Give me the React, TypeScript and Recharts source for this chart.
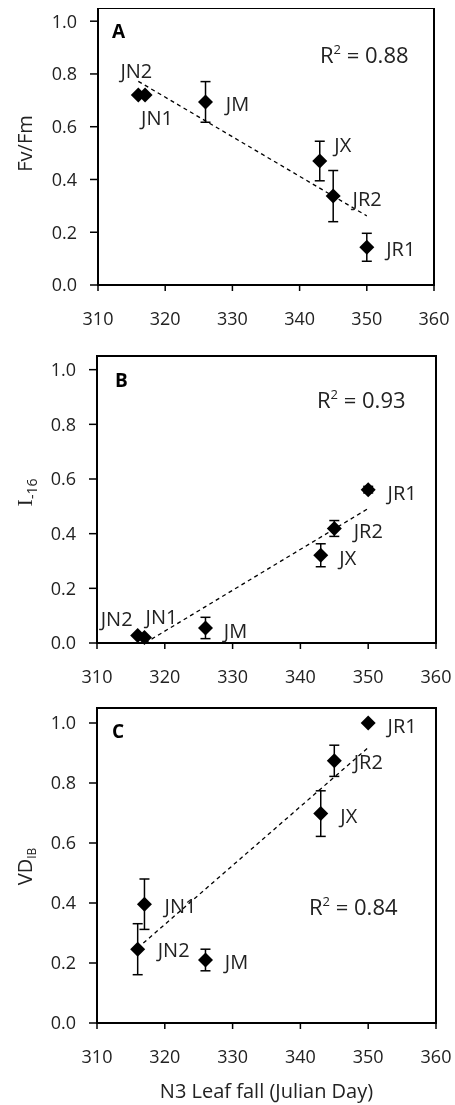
import React from 'react';
import { ScatterChart, Scatter, XAxis, YAxis, ErrorBar, ReferenceArea } from 'recharts';

// N3 leaf fall (Julian day) per site
const sites = ['JN2', 'JN1', 'JM', 'JX', 'JR2', 'JR1'];
const leafFall = [316, 317, 326, 343, 345, 350];

// A: Fv/Fm
const fvfm = [0.72, 0.72, 0.694, 0.47, 0.337, 0.143];
const fvfmErr = [0, 0, 0.077, 0.075, 0.097, 0.053];
// B: I-16
const i16 = [0.027, 0.02, 0.055, 0.321, 0.419, 0.561];
const i16Err = [0, 0, 0.039, 0.042, 0.029, 0.012];
// C: VD_IB
const vdib = [0.246, 0.396, 0.21, 0.698, 0.874, 1.0];
const vdibErr = [0.085, 0.084, 0.036, 0.076, 0.052, 0];

// linear trend lines (end points)
const trendDaysA = [316, 350];
const trendA = [0.772, 0.262];
const trendDaysB = [317.1, 350];
const trendB = [0, 0.492];
const trendDaysC = [316, 350];
const trendC = [0.25, 0.918];

const r2Values = ['0.88', '0.93', '0.84'];
const xTicks = [310, 320, 330, 340, 350, 360];
const yTicks = [0, 0.2, 0.4, 0.6, 0.8, 1.0];

const FONT = '"Open Sans", sans-serif';
const INK = '#222';

// label offsets from marker centre, per panel
const LABEL_POS: Record<string, Record<string, number[]>> = {
  A: { JN2: [-2, -24], JN1: [12, 23], JM: [32, 2], JX: [23, -16], JR2: [34, 3], JR1: [34, 2] },
  B: { JN2: [-21, -17], JN1: [17, -21], JM: [30, 3], JX: [27, 3], JR2: [34, 3], JR1: [34, 3] },
  C: { JR1: [34, 3], JR2: [34, 1], JX: [28, 2], JN1: [36, 2], JN2: [36, 1], JM: [31, 2] },
};

const build = (vals: number[], errs: number[]) =>
  sites.map((name, i) => ({ name, x: leafFall[i], y: vals[i], err: errs[i] }));
const buildTrend = (xs: number[], ys: number[]) => xs.map((x, i) => ({ x, y: ys[i] }));

const makeShape = (panel: string) => (props: any) => {
  const { cx, cy, payload } = props;
  const [dx, dy] = LABEL_POS[panel][payload.name] || [32, 2];
  const s = 7.5;
  return (
    <g>
      <path d={`M${cx},${cy - s}L${cx + s},${cy}L${cx},${cy + s}L${cx - s},${cy}Z`} fill="#000" />
      <text x={cx + dx} y={cy + dy} dy="0.35em" textAnchor="middle" fontSize={20} fill={INK} fontFamily={FONT}>
        {payload.name}
      </text>
    </g>
  );
};

const Overlay = ({ viewBox, letter, r2, letterPos, r2Pos }: any) => {
  const { x, y } = viewBox;
  return (
    <g fontFamily={FONT} fill={INK}>
      <text x={x + letterPos[0]} y={y + letterPos[1]} fontSize={19} fontWeight="bold" fill="#000">
        {letter}
      </text>
      <text x={x + r2Pos[0]} y={y + r2Pos[1]} fontSize={22}>
        <tspan>R</tspan>
        <tspan fontSize={13} dy={-9}>2</tspan>
        <tspan dy={9}>{` = ${r2}`}</tspan>
      </text>
    </g>
  );
};

const YLabel = ({ viewBox, kind, shift }: any) => {
  const cx = viewBox.x + 17;
  const cy = viewBox.y + viewBox.height / 2 + shift;
  let content: React.ReactNode;
  if (kind === 'A') content = <tspan>Fv/Fm</tspan>;
  else if (kind === 'B')
    content = (
      <>
        <tspan fontFamily='"Liberation Serif", serif' fontSize={22}>I</tspan>
        <tspan fontSize={14} dy={5}>-16</tspan>
      </>
    );
  else
    content = (
      <>
        <tspan>VD</tspan>
        <tspan fontSize={12} dy={4}>IB</tspan>
      </>
    );
  return (
    <text
      x={cx}
      y={cy}
      dy={7}
      transform={`rotate(-90 ${cx} ${cy})`}
      textAnchor="middle"
      fontSize={20}
      fill={INK}
      fontFamily={FONT}
    >
      {content}
    </text>
  );
};

const XLabel = ({ viewBox }: any) => (
  <text
    x={viewBox.x + viewBox.width / 2}
    y={viewBox.y + 75}
    textAnchor="middle"
    fontSize={20}
    fill={INK}
    fontFamily={FONT}
  >
    N3 Leaf fall (Julian Day)
  </text>
);

type PanelProps = {
  letter: string;
  data: any[];
  trend: any[];
  r2: string;
  top: number;
  height: number;
  marginTop: number;
  marginRight: number;
  yWidth: number;
  xHeight: number;
  yShift: number;
  letterPos: number[];
  r2Pos: number[];
  showXLabel?: boolean;
};

const Panel = (p: PanelProps) => (
  <div style={{ position: 'absolute', left: 0, top: p.top }}>
    <ScatterChart
      width={447}
      height={p.height}
      margin={{ top: p.marginTop, right: p.marginRight, left: 0, bottom: 0 }}
      style={{ fontFamily: FONT }}
    >
      <XAxis
        type="number"
        dataKey="x"
        domain={[310, 360]}
        ticks={xTicks}
        height={p.xHeight}
        tickSize={6}
        tickMargin={21}
        axisLine={{ stroke: '#000', strokeWidth: 2 }}
        tickLine={{ stroke: '#000', strokeWidth: 1.5 }}
        tick={{ fontSize: 18, fill: INK, fontFamily: FONT }}
        label={p.showXLabel ? <XLabel /> : undefined}
      />
      <YAxis
        type="number"
        dataKey="y"
        domain={[0, 1.05]}
        ticks={yTicks}
        width={p.yWidth}
        tickSize={8}
        tickMargin={13}
        tickFormatter={(v: number) => v.toFixed(1)}
        axisLine={{ stroke: '#000', strokeWidth: 2 }}
        tickLine={{ stroke: '#000', strokeWidth: 1.5 }}
        tick={{ fontSize: 18, fill: INK, fontFamily: FONT }}
        label={<YLabel kind={p.letter} shift={p.yShift} />}
      />
      <ReferenceArea
        x1={310}
        x2={360}
        y1={0}
        y2={1.05}
        fill="none"
        stroke="#000"
        strokeWidth={2}
        label={<Overlay letter={p.letter} r2={p.r2} letterPos={p.letterPos} r2Pos={p.r2Pos} />}
      />
      <Scatter
        data={p.trend}
        line={{ stroke: '#000', strokeWidth: 1.3, strokeDasharray: '4 3.5' }}
        shape={() => <g />}
        isAnimationActive={false}
      />
      <Scatter data={p.data} shape={makeShape(p.letter)} isAnimationActive={false}>
        <ErrorBar dataKey="err" direction="y" width={5} stroke="#000" strokeWidth={1.5} isAnimationActive={false} />
      </Scatter>
    </ScatterChart>
  </div>
);

export default function App() {
  return (
    <div style={{ position: 'fixed', left: 8, top: 8, width: 447, height: 1097, fontFamily: FONT }}>
      <Panel
        letter="A"
        data={build(fvfm, fvfmErr)}
        trend={buildTrend(trendDaysA, trendA)}
        r2={r2Values[0]}
        top={0}
        height={322}
        marginTop={0}
        marginRight={21}
        yWidth={90}
        xHeight={45}
        yShift={-3}
        letterPos={[14, 30]}
        r2Pos={[222, 55]}
      />
      <Panel
        letter="B"
        data={build(i16, i16Err)}
        trend={buildTrend(trendDaysB, trendB)}
        r2={r2Values[1]}
        top={338}
        height={342}
        marginTop={10}
        marginRight={19}
        yWidth={89}
        xHeight={45}
        yShift={-7}
        letterPos={[18, 31]}
        r2Pos={[220, 52]}
      />
      <Panel
        letter="C"
        data={build(vdib, vdibErr)}
        trend={buildTrend(trendDaysC, trendC)}
        r2={r2Values[2]}
        top={690}
        height={407}
        marginTop={10}
        marginRight={19}
        yWidth={89}
        xHeight={82}
        yShift={1}
        letterPos={[15, 30]}
        r2Pos={[212, 207]}
        showXLabel
      />
    </div>
  );
}
